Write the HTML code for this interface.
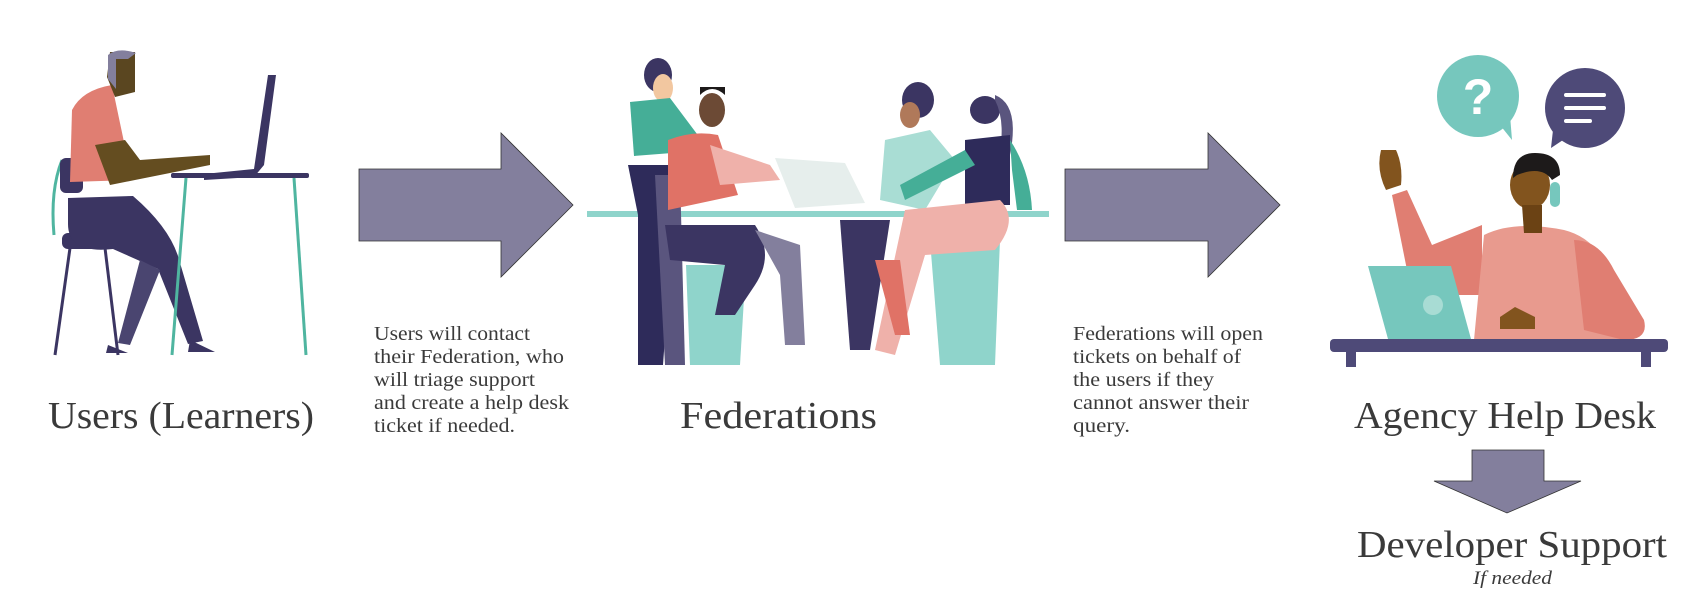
<!DOCTYPE html>
<html><head><meta charset="utf-8"><style>
html,body{margin:0;padding:0;background:#fff;width:1697px;height:604px;overflow:hidden}
svg{display:block}
text{font-family:"Liberation Serif",serif;fill:#3a3a3a}
</style></head><body>
<svg width="1697" height="604" viewBox="0 0 1697 604" xmlns="http://www.w3.org/2000/svg">
<!-- Person 1 -->
<g>
<line x1="55" y1="355" x2="70" y2="248" stroke="#3b3562" stroke-width="3"/>
<line x1="105" y1="248" x2="118" y2="355" stroke="#3b3562" stroke-width="3"/>
<path d="M62 160 q-12 30 -8 75" stroke="#4fb5a0" stroke-width="3" fill="none"/>
<rect x="60" y="158" width="23" height="35" rx="6" fill="#3b3562"/>
<rect x="62" y="233" width="82" height="16" rx="6" fill="#3b3562"/>
<path d="M72 110 q10 -20 40 -25 l20 95 l-62 2 z" fill="#e07e72"/>
<path d="M95 145 l30 -5 l15 20 l70 -5 l0 10 l-75 15 l-25 5 z" fill="#644d20"/>
<path d="M110 52 l25 0 l0 40 l-20 5 l-8 -20 z" fill="#5a4620"/>
<path d="M108 55 q10 -8 28 -2 l-8 6 l-12 0 l0 30 l-8 -10 z" fill="#837f9d"/>
<path d="M68 198 l65 -2 q35 30 45 60 l25 85 l-15 3 l-30 -75 l-45 -20 q-45 5 -45 -25 z" fill="#3b3562"/>
<path d="M140 260 l20 10 l-30 75 l-12 -2 z" fill="#4a4570"/>
<path d="M108 345 l20 8 l-22 0 z M190 340 l25 12 l-27 0 z" fill="#3b3562"/>
<path d="M268 75 l8 0 l-12 90 l-10 12 l-50 3 l0 -6 l50 -5 z" fill="#3b3562"/>
<rect x="171" y="173" width="138" height="5" rx="2" fill="#3b3562"/>
<line x1="186" y1="178" x2="172" y2="355" stroke="#4fb5a0" stroke-width="3"/>
<line x1="294" y1="178" x2="306" y2="355" stroke="#4fb5a0" stroke-width="3"/>
</g>
<!-- Arrow 1 -->
<path d="M359 169 L501 169 L501 133 L573 205 L501 277 L501 241 L359 241 Z" fill="#837f9d" stroke="#333" stroke-width="0.8"/>
<!-- Federations illustration -->
<g>
<rect x="587" y="211" width="462" height="6" fill="#8fd4cb"/>
<path d="M686 265 l60 0 l-6 100 l-50 0 z" fill="#8fd4cb"/>
<path d="M930 240 l70 0 l-5 125 l-55 0 z" fill="#8fd4cb"/>
<ellipse cx="658" cy="75" rx="14" ry="17" fill="#3b3562"/>
<ellipse cx="663" cy="88" rx="10" ry="14" fill="#f2c7a0"/>
<path d="M630 102 l40 -4 l30 40 l-28 15 l-38 3 z" fill="#45ae97"/>
<path d="M628 165 l40 0 l5 60 l-10 140 l-25 0 l0 -150 z" fill="#2e2b5a"/>
<path d="M655 175 l25 0 l5 190 l-20 0 z" fill="#5a557e"/>
<ellipse cx="712" cy="110" rx="13" ry="17" fill="#6c4a35"/>
<path d="M700 95 q12 -12 25 0 l0 -8 l-25 0 z" fill="#1d1a1a"/>
<path d="M668 140 q25 -10 50 -5 l20 60 l-70 15 z" fill="#e07266"/>
<path d="M710 145 l60 20 l10 15 l-60 5 z" fill="#efb1aa"/>
<path d="M775 158 l70 5 l20 40 l-70 5 z" fill="#e6eeec"/>
<path d="M665 225 l90 0 q20 30 0 60 l-20 30 l-20 0 l10 -50 l-55 -5 z" fill="#3b3562"/>
<path d="M755 230 l45 15 l5 100 l-20 0 l-5 -70 z" fill="#837f9d"/>
<ellipse cx="918" cy="100" rx="16" ry="18" fill="#3b3562"/>
<ellipse cx="910" cy="115" rx="10" ry="13" fill="#b0795a"/>
<path d="M885 140 l45 -10 l25 30 l-30 50 l-45 -10 z" fill="#a9ddd4"/>
<ellipse cx="985" cy="110" rx="15" ry="14" fill="#3b3562"/>
<path d="M995 95 q25 10 15 60 l-10 -5 q5 -30 -5 -50 z" fill="#5a557e"/>
<path d="M965 140 l45 -5 l0 70 l-45 0 z" fill="#2e2b5a"/>
<path d="M900 185 l65 -35 l10 15 l-70 35 z" fill="#45ae97"/>
<path d="M1010 140 q20 30 22 70 l-15 0 l-5 -40 z" fill="#45ae97"/>
<path d="M840 220 l50 0 l-20 130 l-20 0 z" fill="#3b3562"/>
<path d="M905 210 l95 -10 q20 20 -5 50 l-70 5 l-30 100 l-20 -5 z" fill="#efb1aa"/>
<path d="M875 260 l25 0 l10 75 l-15 0 z" fill="#e07266"/>
</g>
<!-- Arrow 2 -->
<path d="M1065 169 L1208 169 L1208 133 L1280 205 L1208 277 L1208 241 L1065 241 Z" fill="#837f9d" stroke="#333" stroke-width="0.8"/>
<!-- Help desk illustration -->
<g>
<circle cx="1478" cy="96" r="41" fill="#76c7bd"/>
<path d="M1500 125 l12 15 l-2 -25 z" fill="#76c7bd"/>
<text x="1478" y="114" text-anchor="middle" style="font-family:'Liberation Sans',sans-serif;font-size:50px;font-weight:bold;fill:#fff">?</text>
<ellipse cx="1585" cy="108" rx="40" ry="40" fill="#4e4a78"/>
<path d="M1553 130 l-2 18 l18 -12 z" fill="#4e4a78"/>
<rect x="1564" y="93" width="42" height="4" rx="2" fill="#fff"/>
<rect x="1564" y="106" width="42" height="4" rx="2" fill="#fff"/>
<rect x="1564" y="119" width="28" height="4" rx="2" fill="#fff"/>
<path d="M1381 150 q-5 20 5 40 l15 -5 q2 -20 -5 -35 z" fill="#82541e"/>
<path d="M1392 195 l15 -5 l25 55 l50 -20 l0 70 l-70 0 z" fill="#e07e72"/>
<path d="M1484 235 q30 -15 80 -5 q40 10 50 60 l20 50 l-160 0 z" fill="#e89a8e"/>
<path d="M1574 240 q25 0 40 30 l30 50 q5 20 -20 20 l-40 -10 z" fill="#e07e72"/>
<ellipse cx="1530" cy="185" rx="20" ry="24" fill="#82541e"/>
<path d="M1513 178 q0 -25 22 -25 q25 0 25 22 l-8 5 q-10 -15 -35 -5 z" fill="#1d1a1a"/>
<path d="M1522 205 l20 0 l0 28 l-18 0 z" fill="#6b4214"/>
<rect x="1550" y="182" width="10" height="25" rx="5" fill="#76c7bd"/>
<path d="M1368 266 l83 0 l20 73 l-83 0 z" fill="#76c7bd"/>
<ellipse cx="1433" cy="305" rx="10" ry="10" fill="#a8dcd4"/>
<path d="M1500 317 l15 -10 l20 10 l0 12 l-35 0 z" fill="#82541e"/>
<rect x="1330" y="339" width="338" height="13" rx="4" fill="#4e4a78"/>
<rect x="1346" y="350" width="10" height="17" fill="#4e4a78"/>
<rect x="1641" y="350" width="10" height="17" fill="#4e4a78"/>
</g>
<!-- Down arrow -->
<path d="M1472 450 L1544 450 L1544 481 L1581 481 L1507 513 L1434 481 L1472 481 Z" fill="#837f9d" stroke="#333" stroke-width="0.8"/>
<!-- Labels -->
<text x="48" y="428" style="font-size:38px" textLength="266" lengthAdjust="spacingAndGlyphs">Users (Learners)</text>
<text x="680" y="428" style="font-size:38px" textLength="197" lengthAdjust="spacingAndGlyphs">Federations</text>
<text x="1354" y="428" style="font-size:38px" textLength="302" lengthAdjust="spacingAndGlyphs">Agency Help Desk</text>
<text x="1357" y="557" style="font-size:38px" textLength="310" lengthAdjust="spacingAndGlyphs">Developer Support</text>
<text x="1473" y="584" style="font-size:19px;font-style:italic" textLength="79" lengthAdjust="spacingAndGlyphs">If needed</text>
<g style="font-size:20px">
<text x="374" y="340" textLength="156" lengthAdjust="spacingAndGlyphs">Users will contact</text>
<text x="374" y="363" textLength="190" lengthAdjust="spacingAndGlyphs">their Federation, who</text>
<text x="374" y="386" textLength="161" lengthAdjust="spacingAndGlyphs">will triage support</text>
<text x="374" y="409" textLength="195" lengthAdjust="spacingAndGlyphs">and create a help desk</text>
<text x="374" y="432" textLength="141" lengthAdjust="spacingAndGlyphs">ticket if needed.</text>
<text x="1073" y="340" textLength="190" lengthAdjust="spacingAndGlyphs">Federations will open</text>
<text x="1073" y="363" textLength="168" lengthAdjust="spacingAndGlyphs">tickets on behalf of</text>
<text x="1073" y="386" textLength="141" lengthAdjust="spacingAndGlyphs">the users if they</text>
<text x="1073" y="409" textLength="176" lengthAdjust="spacingAndGlyphs">cannot answer their</text>
<text x="1073" y="432" textLength="57" lengthAdjust="spacingAndGlyphs">query.</text>
</g>
</svg>
</body></html>
